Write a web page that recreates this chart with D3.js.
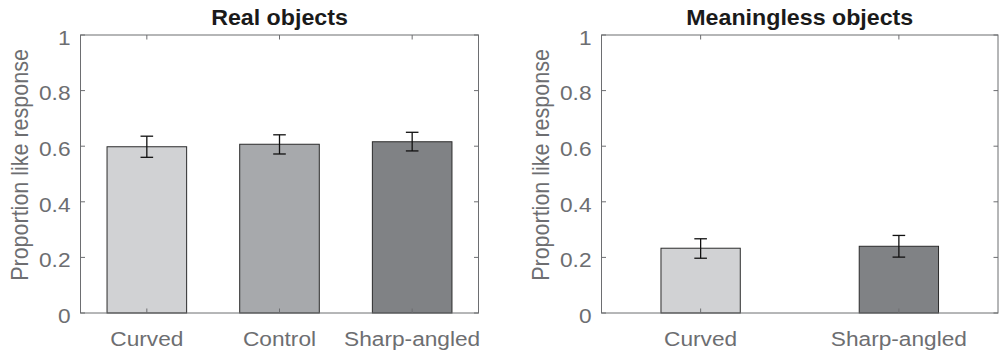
<!DOCTYPE html>
<html>
<head>
<meta charset="utf-8">
<script src="https://cdn.jsdelivr.net/npm/d3@7"></script>
<style>
	body { margin: 0; background: #fff; }
	text { font-family: "Liberation Sans", Arial, sans-serif; }
</style>
</head>
<body>
<script>
const realCategories = ["Curved", "Control", "Sharp-angled"];
const realValues     = [0.598, 0.607, 0.616];
const realLower      = [0.560, 0.572, 0.583];
const realUpper      = [0.636, 0.641, 0.650];

const meanCategories = ["Curved", "Sharp-angled"];
const meanValues     = [0.233, 0.240];
const meanLower      = [0.197, 0.201];
const meanUpper      = [0.267, 0.279];

const yTicks  = [0, 0.2, 0.4, 0.6, 0.8, 1];
const realFills = ["#d1d2d4", "#a7a9ac", "#808285"];
const meanFills = ["#d1d2d4", "#808285"];

const W = 999, H = 354;
const grey = "#6d6e71";
const SX = 1.08; // the glyphs in the figure are a little wider than they are tall

const svg = d3.select("body").append("svg")
	.attr("width", W)
	.attr("height", H);

// text placed at (x, y), then widened by SX
const Label = (g, x, y) => g.append("text")
	.attr("transform", "translate(" + x + "," + y + ") scale(" + SX + ",1)");

const Panel = ({ left, right, top, bottom, title, categories, values, lower, upper, fills, barFrac, yLabelX, yLabelY }) => {
	const g = svg.append("g");
	const n = categories.length;

	const x = d3.scaleLinear().domain([0.5, n + 0.5]).range([left, right]);
	const y = d3.scaleLinear().domain([0, 1]).range([bottom, top]);
	const step = x(2) - x(1);
	const bw = step * barFrac;

	const data = categories.map((c, i) => ({
		c, i: i + 1, v: values[i], lo: lower[i], hi: upper[i], fill: fills[i]
	}));

	// bars
	g.selectAll("rect.bar").data(data).enter()
		.append("rect")
		.attr("class", "bar")
		.attr("x", d => x(d.i) - bw / 2)
		.attr("y", d => y(d.v))
		.attr("width", bw)
		.attr("height", d => y(0) - y(d.v))
		.attr("fill", d => d.fill)
		.attr("stroke", "#2b2b2b")
		.attr("stroke-width", 1);

	// box
	g.append("rect")
		.attr("x", left).attr("y", top)
		.attr("width", right - left).attr("height", bottom - top)
		.attr("fill", "none")
		.attr("stroke", grey)
		.attr("stroke-width", 1);

	// ticks inward, all four sides
	const tl = 4.5;
	yTicks.forEach(t => {
		g.append("line").attr("x1", left).attr("x2", left + tl)
			.attr("y1", y(t)).attr("y2", y(t)).attr("stroke", grey);
		g.append("line").attr("x1", right).attr("x2", right - tl)
			.attr("y1", y(t)).attr("y2", y(t)).attr("stroke", grey);
		Label(g, left - 10, y(t))
			.attr("dy", "0.47em")
			.attr("text-anchor", "end")
			.attr("font-size", 21)
			.attr("fill", grey)
			.text(t);
	});
	data.forEach(d => {
		g.append("line").attr("x1", x(d.i)).attr("x2", x(d.i))
			.attr("y1", bottom).attr("y2", bottom - tl).attr("stroke", grey);
		g.append("line").attr("x1", x(d.i)).attr("x2", x(d.i))
			.attr("y1", top).attr("y2", top + tl).attr("stroke", grey);
	});

	// error bars
	const cap = 6.3;
	const eb = g.selectAll("g.err").data(data).enter().append("g").attr("class", "err")
		.attr("stroke", "#111").attr("stroke-width", 1.3);
	eb.append("line").attr("x1", d => x(d.i)).attr("x2", d => x(d.i))
		.attr("y1", d => y(d.lo)).attr("y2", d => y(d.hi));
	eb.append("line").attr("x1", d => x(d.i) - cap).attr("x2", d => x(d.i) + cap)
		.attr("y1", d => y(d.lo)).attr("y2", d => y(d.lo));
	eb.append("line").attr("x1", d => x(d.i) - cap).attr("x2", d => x(d.i) + cap)
		.attr("y1", d => y(d.hi)).attr("y2", d => y(d.hi));

	// category labels
	data.forEach(d => {
		Label(g, x(d.i), 346)
			.attr("text-anchor", "middle")
			.attr("font-size", 21)
			.attr("fill", grey)
			.text(d.c);
	});

	// y label
	g.append("text")
		.attr("transform", "translate(" + yLabelX + "," + yLabelY + ") scale(" + SX + ",1) rotate(-90)")
		.attr("text-anchor", "middle")
		.attr("font-size", 21.5)
		.attr("fill", grey)
		.text("Proportion like response");

	// title
	Label(g, (left + right) / 2, 25)
		.attr("text-anchor", "middle")
		.attr("font-size", 21.5)
		.attr("font-weight", "bold")
		.attr("fill", "#1a1a1a")
		.text(title);
};

Panel({
	left: 80.5, right: 478.5, top: 35, bottom: 313,
	title: "Real objects",
	categories: realCategories, values: realValues, lower: realLower, upper: realUpper,
	fills: realFills, barFrac: 0.6, yLabelX: 28, yLabelY: 165
});

Panel({
	left: 601.5, right: 998, top: 35, bottom: 313,
	title: "Meaningless objects",
	categories: meanCategories, values: meanValues, lower: meanLower, upper: meanUpper,
	fills: meanFills, barFrac: 0.4, yLabelX: 549, yLabelY: 165
});
</script>
</body>
</html>
